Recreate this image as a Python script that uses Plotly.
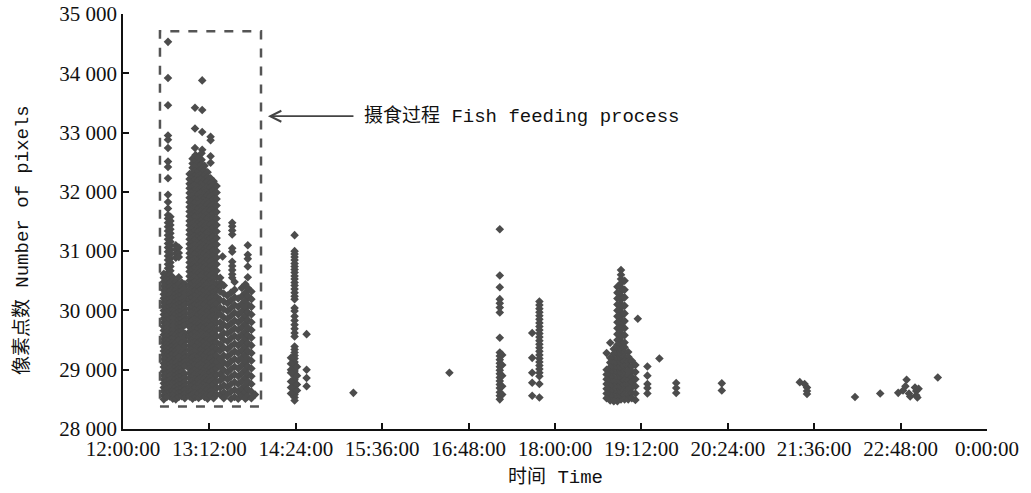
import plotly.graph_objects as go

# ---------------- data (x = minutes after 12:00:00, y = number of pixels) ----------------
x_tick_vals = [0, 72, 144, 216, 288, 360, 432, 504, 576, 648, 720]
x_tick_labels = ["12:00:00", "13:12:00", "14:24:00", "15:36:00", "16:48:00", "18:00:00",
                 "19:12:00", "20:24:00", "21:36:00", "22:48:00", "0:00:00"]
y_tick_vals = [28000, 29000, 30000, 31000, 32000, 33000, 34000, 35000]
y_tick_labels = ["28 000", "29 000", "30 000", "31 000", "32 000", "33 000", "34 000", "35 000"]

# feeding process, left column group (about 12:34-12:52)
feeding_left = [
    (37.5, [34530, 33920, 33460, 32950, 32880, 32740, 32510, 32420, 32230, 31950, 31830, 31720, 31610,
            31550, 31480, 31410, 31340, 31270, 31200, 31130, 31060, 30990, 30920, 30850, 30780, 30710, 30640]),
    (39.5, [31580, 31510, 31440, 31370, 31300, 31230, 31160, 31090, 31020, 30950, 30880, 30810, 30740, 30670]),
    (44, [31100, 31030, 30960, 30890]),
    (46.5, [31060, 30970, 30900]),
    (34, [30620, 30550, 30480, 30410, 30345, 30275, 30205, 30140, 30070, 30000, 29930, 29865, 29795, 29725,
          29660, 29590, 29520, 29455, 29385, 29315, 29250, 29180, 29110, 29045, 28975, 28905, 28840, 28770,
          28700, 28635, 28565, 28500]),
    (36.5, [30590, 30525, 30455, 30385, 30320, 30250, 30180, 30115, 30045, 29975, 29910, 29840, 29770, 29705,
            29635, 29565, 29500, 29430, 29360, 29295, 29225, 29155, 29090, 29020, 28950, 28885, 28815, 28745,
            28680, 28610, 28540]),
    (39, [30600, 30530, 30465, 30395, 30325, 30260, 30190, 30120, 30055, 29985, 29915, 29850, 29780, 29710,
          29645, 29575, 29505, 29440, 29370, 29300, 29235, 29165, 29095, 29030, 28960, 28890, 28825, 28755,
          28685, 28620, 28550]),
    (41.5, [30560, 30490, 30420, 30355, 30285, 30215, 30150, 30080, 30010, 29945, 29875, 29805, 29740, 29670,
            29600, 29535, 29465, 29395, 29330, 29260, 29190, 29125, 29055, 28985, 28920, 28850, 28780, 28715,
            28645, 28575, 28510]),
    (44, [30480, 30410, 30345, 30275, 30205, 30140, 30070, 30000, 29935, 29865, 29795, 29730, 29660, 29590,
          29525, 29455, 29385, 29320, 29250, 29180, 29115, 29045, 28975, 28910, 28840, 28770, 28705, 28635,
          28565, 28500]),
    (46.5, [30560, 30450, 30385, 30315, 30245, 30180, 30110, 30040, 29975, 29905, 29835, 29770, 29700, 29630,
            29565, 29495, 29425, 29360, 29290, 29220, 29155, 29085, 29015, 28950, 28880, 28810, 28745, 28675,
            28605, 28540]),
    (49, [30470, 30400, 30330, 30265, 30195, 30125, 30060, 29990, 29920, 29855, 29785, 29715, 29650, 29580,
          29510, 29445, 29375, 29305, 29240, 29170, 29100, 29035, 28965, 28895, 28830, 28760, 28690, 28625,
          28555]),
    (51.5, [30440, 30370, 30300, 30235, 30165, 30095, 30030, 29960, 29890, 29825, 29755, 29610, 29545, 29475,
            29405, 29340, 29270, 29200, 29135, 29065, 28930, 28860, 28790, 28725, 28655, 28585, 28520]),
]

# feeding process, main column group (about 12:55-13:18)
feeding_main = [
    (66, [33880, 33380, 33010, 32710]),
    (60, [33420, 33070, 32740]),
    (55.5, [32300, 32215, 32135, 32060, 31980, 31900, 31825, 31745, 31670, 31590, 31510, 31435,
            31355, 31280, 31200, 31120, 31045, 30965, 30890, 30810, 30730, 30655, 30575, 30500, 30420, 30340,
            30265, 30185, 30110, 30030, 29950, 29875, 29795, 29720, 29640, 29560, 29485, 29405, 29330, 29250,
            29170, 29095, 29015, 28940, 28860, 28780, 28705, 28625, 28550]),
    (58, [32560, 32480, 32405, 32325, 32250, 32170, 32090, 32015, 31935, 31860, 31780, 31700, 31625, 31545,
          31470, 31390, 31310, 31235, 31155, 31080, 31000, 30920, 30845, 30765, 30690, 30610, 30530, 30455,
          30375, 30300, 30220, 30140, 30065, 29985, 29910, 29830, 29750, 29675, 29595, 29520, 29440, 29360,
          29285, 29205, 29130, 29050, 28970, 28895, 28815, 28740, 28660, 28580, 28510]),
    (60.5, [32620, 32520, 32440, 32365, 32285, 32210, 32130, 32050, 31975, 31895, 31820, 31740, 31660, 31585,
            31505, 31430, 31350, 31270, 31195, 31115, 31040, 30960, 30880, 30805, 30725, 30650, 30570, 30490,
            30415, 30335, 30260, 30180, 30100, 30025, 29945, 29870, 29790, 29710, 29635, 29555, 29480, 29400,
            29320, 29245, 29165, 29090, 29010, 28930, 28855, 28775, 28700, 28620, 28540]),
    (63, [32580, 32500, 32425, 32345, 32270, 32190, 32110, 32035, 31955, 31880, 31800, 31720, 31645, 31565,
          31490, 31410, 31330, 31255, 31175, 31100, 31020, 30940, 30865, 30785, 30710, 30630, 30550, 30475,
          30395, 30320, 30240, 30160, 30085, 30005, 29930, 29850, 29770, 29695, 29615, 29540, 29460, 29380,
          29305, 29225, 29150, 29070, 28990, 28915, 28835, 28760, 28680, 28600, 28525]),
    (65.5, [32650, 32540, 32460, 32385, 32305, 32230, 32150, 32070, 31995, 31915, 31840, 31760, 31680, 31605,
            31525, 31450, 31370, 31290, 31215, 31135, 31060, 30980, 30900, 30825, 30745, 30670, 30590, 30510,
            30435, 30355, 30280, 30200, 30120, 30045, 29965, 29890, 29810, 29730, 29655, 29575, 29500, 29420,
            29340, 29265, 29185, 29110, 29030, 28950, 28875, 28795, 28720, 28640, 28560]),
    (68, [32440, 32360, 32285, 32205, 32130, 32050, 31970, 31895, 31815, 31740, 31660, 31580, 31505,
          31425, 31350, 31270, 31190, 31115, 31035, 30960, 30880, 30800, 30725, 30645, 30570, 30490, 30410,
          30335, 30255, 30180, 30100, 30020, 29945, 29865, 29790, 29710, 29630, 29555, 29475, 29400, 29320,
          29240, 29165, 29085, 29010, 28930, 28850, 28775, 28695, 28620, 28540]),
    (70.5, [32330, 32250, 32175, 32095, 32020, 31940, 31860, 31785, 31705, 31630, 31550, 31470, 31395,
            31315, 31240, 31160, 31080, 31005, 30925, 30850, 30770, 30690, 30615, 30535, 30460, 30380, 30300,
            30225, 30145, 30070, 29990, 29910, 29835, 29755, 29680, 29600, 29520, 29445, 29365, 29290, 29210,
            29130, 29055, 28975, 28900, 28820, 28740, 28665, 28585, 28510]),
    (73, [32930, 32870, 32600, 32490, 32230, 32150, 32075, 31995, 31920, 31840, 31760, 31685, 31605, 31530,
          31450, 31370, 31295, 31215, 31140, 31060, 30980, 30905, 30825, 30750, 30670, 30590, 30515, 30435,
          30360, 30280, 30200, 30125, 30045, 29970, 29890, 29810, 29735, 29655, 29580, 29500, 29420, 29345,
          29265, 29190, 29110, 29030, 28955, 28875, 28800, 28720, 28640, 28565]),
    (75.5, [32180, 32105, 32025, 31950, 31870, 31790, 31715, 31635, 31560, 31480, 31400, 31325, 31245,
            31170, 31090, 31010, 30935, 30855, 30780, 30700, 30620, 30545, 30465, 30390, 30310, 30230, 30155,
            30075, 30000, 29920, 29840, 29765, 29685, 29610, 29530, 29450, 29375, 29295, 29220, 29140, 29060,
            28985, 28905, 28830, 28750, 28670, 28595, 28520]),
    (78, [32100, 31990, 31880, 31770, 31660, 31550, 31440, 31330, 31220, 31110, 31000, 30890, 30780,
          30670, 30560, 30450, 30340, 30230, 30120, 30010, 29900, 29790, 29680, 29570, 29460, 29350, 29240,
          29130, 29020, 28910, 28800, 28690, 28580]),
]

# feeding process, right column group (about 13:20-13:50)
feeding_right = [
    (91, [31480, 31420, 31350, 31280, 31050, 30990, 30820, 30750, 30680, 30610, 30550]),
    (83, [30910]),
    (81, [30550, 30470, 30400, 30320, 30180, 30050, 29940, 29800, 29690, 29560, 29430, 29320, 29180, 29060,
          28930, 28820, 28700, 28580]),
    (84, [30420, 30280, 30150, 30020, 29880, 29760, 29620, 29500, 29370, 29240, 29120, 28990, 28870, 28740,
          28620, 28520]),
    (87, [30250, 30120, 29990, 29860, 29730, 29610, 29480, 29350, 29220, 29090, 28960, 28840, 28710, 28590]),
    (90, [30300, 30170, 30040, 29910, 29780, 29650, 29530, 29400, 29270, 29140, 29010, 28880, 28760, 28630,
          28510]),
    (93, [30480, 30350, 30220, 30090, 29960, 29830, 29700, 29570, 29440, 29310, 29180, 29050, 28920, 28790,
          28660, 28540]),
    (96, [30200, 30060, 29930, 29800, 29670, 29540, 29410, 29280, 29150, 29020, 28890, 28760, 28630, 28510]),
    (99, [30380, 30240, 30110, 29980, 29850, 29720, 29590, 29460, 29330, 29200, 29070, 28940, 28810, 28680,
          28560]),
    (102, [30440, 30300, 30170, 30040, 29910, 29780, 29650, 29520, 29390, 29260, 29130, 29000, 28870, 28740,
           28610, 28510]),
    (104, [31100, 30940, 30870, 30740, 30560, 30380, 30240, 30100, 29970, 29840, 29710, 29580, 29450, 29320,
           29190, 29060, 28930, 28800, 28670, 28550]),
    (107, [30320, 30190, 30060, 29930, 29800, 29670, 29540, 29410, 29280, 29150, 29020, 28890, 28760, 28630,
           28520]),
    (110, [28580]),
]

# afternoon and evening activity
cluster_1423 = [
    (143, [31270, 31000, 30950, 30900, 30850, 30790, 30740, 30690, 30640, 30580, 30530, 30470, 30420, 30360,
           30300, 30240, 30190, 30040, 29990, 29900, 29830, 29760, 29690, 29620, 29560, 29390, 29340, 29290,
           29240, 29190, 29130, 29080, 29030, 28980, 28930, 28880, 28830, 28780, 28730, 28680, 28630, 28580,
           28530, 28480]),
    (140, [29200, 29100, 29000, 28950, 28800, 28700, 28600]),
    (145, [29050, 28900, 28750, 28650]),
    (153, [29600, 29000, 28860, 28720]),
    (192, [28610]),
    (272, [28950]),
]

cluster_1714 = [
    (314, [31370, 30590, 30390, 30190, 30120, 30050, 29965, 29540, 29290, 29230, 29170, 29110, 29050, 28990,
           28930, 28870, 28810, 28750, 28690, 28620, 28560, 28500]),
    (316, [29250, 29080, 28900, 28720, 28580]),
]

cluster_1747 = [
    (347, [30150, 30090, 30030, 29970, 29910, 29850, 29790, 29730, 29670, 29610, 29550, 29490, 29430, 29370,
           29310, 29250, 29190, 29130, 29070, 29010, 28950, 28890, 28760, 28530]),
    (341, [29620, 29200, 28950, 28780, 28560]),
]

cluster_1854 = [
    (415, [30680, 30600, 30530, 30460, 30390, 30320, 30250, 30180, 30110, 30040, 29970, 29900, 29830, 29760,
           29690, 29620, 29550, 29480, 29410, 29340, 29270, 29200, 29130, 29060, 28990, 28920, 28850, 28780,
           28710, 28640, 28570, 28500]),
    (412, [30400, 30300, 30200, 30100, 30000, 29900, 29800, 29700, 29600, 29500, 29420, 29340, 29260, 29180,
           29100, 29020, 28940, 28860, 28780, 28700, 28620, 28540, 28470]),
    (418, [30500, 30350, 30220, 30080, 29950, 29820, 29700, 29580, 29460, 29380, 29300, 29220, 29140, 29060,
           28980, 28900, 28820, 28740, 28660, 28580, 28500]),
    (409, [29350, 29270, 29190, 29110, 29030, 28950, 28870, 28790, 28710, 28630, 28550, 28470]),
    (406, [29455, 29200, 29120, 29040, 28960, 28880, 28800, 28720, 28640, 28560, 28480]),
    (403, [29280, 29000, 28920, 28840, 28760, 28680, 28600, 28520]),
    (421, [29300, 29220, 29140, 29060, 28980, 28900, 28820, 28740, 28660, 28580, 28500]),
    (424, [29150, 29060, 28970, 28880, 28790, 28700, 28610, 28520]),
    (427, [29080, 28960, 28840, 28720, 28600, 28490]),
    (429, [29860]),
    (437, [29055, 28900, 28760, 28690, 28600]),
    (447, [29190]),
    (461, [28776, 28692, 28608]),
]

late_points = [
    (499, [28770, 28650]),
    (564, [28790]),
    (568, [28760]),
    (570, [28700, 28640, 28590]),
    (610, [28540]),
    (631, [28600]),
    (646, [28610]),
    (650, [28650]),
    (652, [28720]),
    (653, [28830]),
    (655, [28600]),
    (656, [28550]),
    (660, [28700]),
    (661, [28640, 28570]),
    (662, [28530]),
    (663, [28680]),
    (679, [28870]),
]

# feeding-process frame and label
box_x = [30.8, 115.0]
box_y = [28380, 34710]
arrow_head = (120.8, 33276)
arrow_tail = (193.3, 33276)
label_pos = (198.8, 33276)
label_text = "摄食过程 Fish feeding process"

# ---------------- figure ----------------
groups = [feeding_left, feeding_main, feeding_right, cluster_1423, cluster_1714, cluster_1747,
          cluster_1854, late_points]
xs, ys = [], []
for grp in groups:
    for t, vals in grp:
        for v in vals:
            xs.append(t)
            ys.append(v)

INK = "#4c4c4c"
fig = go.Figure()
fig.add_trace(go.Scatter(
    x=xs, y=ys, mode="markers",
    marker=dict(symbol="diamond", size=6.6, color=INK, line=dict(width=0)),
    hoverinfo="skip", showlegend=False,
))

fig.add_shape(type="rect", xref="x", yref="y",
              x0=box_x[0], x1=box_x[1], y0=box_y[0], y1=box_y[1],
              line=dict(color="#555555", width=2.5, dash="dash"))

fig.add_annotation(x=arrow_head[0], y=arrow_head[1], ax=arrow_tail[0], ay=arrow_tail[1],
                   xref="x", yref="y", axref="x", ayref="y", text="",
                   showarrow=True, arrowhead=5, arrowsize=1.2, arrowwidth=1.8, arrowcolor="#444444")
fig.add_annotation(x=label_pos[0], y=label_pos[1], xref="x", yref="y", text=label_text,
                   showarrow=False, xanchor="left", yanchor="middle",
                   font=dict(family="Liberation Mono, Noto Sans CJK SC", size=19, color="#111111"))

# axis titles
fig.add_annotation(x=-0.117, y=0.455, xref="paper", yref="paper", text="像素点数 Number of pixels",
                   textangle=-90, showarrow=False, xanchor="center", yanchor="middle",
                   font=dict(family="Liberation Mono, Noto Sans CJK SC", size=19, color="#111111"))
fig.add_annotation(x=0.5, y=-0.117, xref="paper", yref="paper", text="时间 Time",
                   showarrow=False, xanchor="center", yanchor="middle",
                   font=dict(family="Liberation Mono, Noto Sans CJK SC", size=19, color="#111111"))

fig.update_layout(
    width=1031, height=493,
    margin=dict(l=123, r=44, t=14, b=64, pad=0, autoexpand=False),
    paper_bgcolor="white", plot_bgcolor="white",
    showlegend=False,
    xaxis=dict(range=[0, 720], tickvals=x_tick_vals, ticktext=x_tick_labels, automargin=False,
               showline=True, linecolor="#111111", linewidth=1.5, mirror=False,
               ticks="inside", ticklen=6, tickwidth=1.5, tickcolor="#111111",
               showgrid=False, zeroline=False,
               tickfont=dict(family="Liberation Serif", size=21, color="#111111")),
    yaxis=dict(range=[28000, 35000], tickvals=y_tick_vals, ticktext=y_tick_labels, automargin=False,
               showline=True, linecolor="#111111", linewidth=1.5, mirror=False,
               ticks="inside", ticklen=6, tickwidth=1.5, tickcolor="#111111",
               showgrid=False, zeroline=False,
               tickfont=dict(family="Liberation Serif", size=21, color="#111111")),
)

fig.write_html("out.html")
